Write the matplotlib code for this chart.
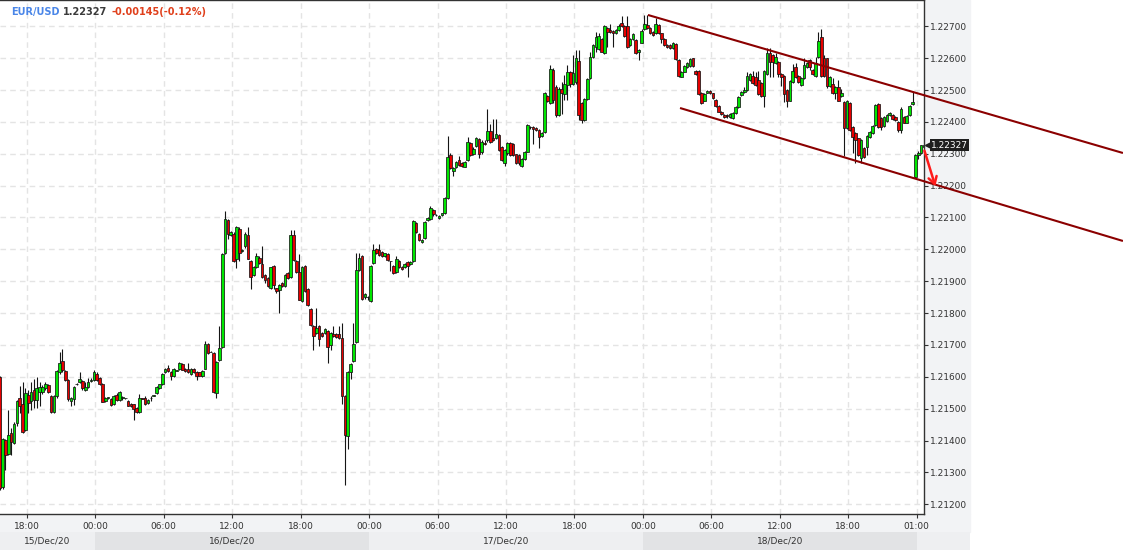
import numpy as np
import matplotlib
matplotlib.use('Agg')
import matplotlib.pyplot as plt
import matplotlib.transforms as mtransforms
from matplotlib.patches import Rectangle

# EUR/USD, 15 minute candles
opens = [
    1.21600, 1.21255, 1.21401, 1.21359, 1.21424, 1.21393, 1.21455, 1.21534, 1.21516, 1.21432, 1.21544,
    1.21523, 1.21558, 1.21528, 1.21551, 1.21551, 1.21565, 1.21574, 1.21541, 1.21489, 1.21539,
    1.21614, 1.21650, 1.21618, 1.21591, 1.21523, 1.21531, 1.21576, 1.21583, 1.21586, 1.21558,
    1.21568, 1.21588, 1.21591, 1.21610, 1.21595, 1.21578, 1.21523, 1.21535, 1.21531, 1.21516,
    1.21544, 1.21526, 1.21535, 1.21533, 1.21524, 1.21516, 1.21514, 1.21503, 1.21490, 1.21533,
    1.21533, 1.21518, 1.21533, 1.21540, 1.21549, 1.21565, 1.21576, 1.21614, 1.21628, 1.21615,
    1.21602, 1.21619, 1.21625, 1.21640, 1.21625, 1.21625, 1.21609, 1.21625, 1.21616, 1.21614,
    1.21602, 1.21626, 1.21703, 1.21679, 1.21675, 1.21549, 1.21654, 1.21694, 1.21988, 1.22093,
    1.22046, 1.22048, 1.21969, 1.22063, 1.21996, 1.22009, 1.22046, 1.21964, 1.21919, 1.21946,
    1.21974, 1.21954, 1.21920, 1.21910, 1.21878, 1.21947, 1.21878, 1.21873, 1.21894, 1.21886,
    1.21925, 1.21913, 1.22046, 1.21963, 1.21928, 1.21837, 1.21948, 1.21875, 1.21813, 1.21760,
    1.21737, 1.21760, 1.21737, 1.21737, 1.21745, 1.21699, 1.21735, 1.21735, 1.21733, 1.21723,
    1.21541, 1.21413, 1.21616, 1.21649, 1.21708, 1.21936, 1.21980, 1.21850, 1.21852, 1.21837,
    1.21957, 1.22001, 1.21999, 1.21993, 1.21978, 1.21985, 1.21962, 1.21948, 1.21928, 1.21965,
    1.21946, 1.21944, 1.21961, 1.21953, 1.21962, 1.22084, 1.22049, 1.22022, 1.22037, 1.22092,
    1.22095, 1.22124, 1.22108, 1.22098, 1.22108, 1.22115, 1.22160, 1.22296, 1.22245, 1.22258,
    1.22281, 1.22270, 1.22260, 1.22281, 1.22333, 1.22300, 1.22324, 1.22345, 1.22304, 1.22333,
    1.22343, 1.22372, 1.22350, 1.22348, 1.22359, 1.22322, 1.22271, 1.22301, 1.22333, 1.22330,
    1.22298, 1.22296, 1.22262, 1.22284, 1.22307, 1.22385, 1.22383, 1.22380, 1.22375, 1.22355,
    1.22367, 1.22481, 1.22458, 1.22563, 1.22508, 1.22422, 1.22502, 1.22486, 1.22516, 1.22555,
    1.22520, 1.22525, 1.22592, 1.22458, 1.22406, 1.22471, 1.22537, 1.22603, 1.22636, 1.22630,
    1.22659, 1.22615, 1.22694, 1.22688, 1.22686, 1.22680, 1.22687, 1.22710, 1.22701, 1.22701,
    1.22641, 1.22659, 1.22657, 1.22618, 1.22649, 1.22690, 1.22704, 1.22694, 1.22683, 1.22678,
    1.22704, 1.22678, 1.22659, 1.22641, 1.22641, 1.22631, 1.22644, 1.22594, 1.22542, 1.22558,
    1.22573, 1.22575, 1.22599, 1.22561, 1.22561, 1.22490, 1.22467, 1.22492, 1.22498, 1.22490,
    1.22469, 1.22450, 1.22432, 1.22422, 1.22422, 1.22414, 1.22411, 1.22429, 1.22448, 1.22484,
    1.22495, 1.22500, 1.22531, 1.22544, 1.22540, 1.22531, 1.22523, 1.22481, 1.22550, 1.22615,
    1.22610, 1.22584, 1.22589, 1.22550, 1.22544, 1.22500, 1.22467, 1.22526, 1.22573, 1.22544,
    1.22516, 1.22537, 1.22573, 1.22594, 1.22563, 1.22544, 1.22605, 1.22667, 1.22599, 1.22599,
    1.22513, 1.22519, 1.22492, 1.22508, 1.22481, 1.22463, 1.22380, 1.22460, 1.22385, 1.22366,
    1.22348, 1.22286, 1.22317, 1.22322, 1.22354, 1.22364, 1.22390, 1.22456, 1.22411, 1.22387,
    1.22404, 1.22422, 1.22422, 1.22414, 1.22401, 1.22373, 1.22416, 1.22398, 1.22422, 1.22456,
    1.22228, 1.22296, 1.22302, 1.22320,
]
highs = [
    1.21604, 1.21408, 1.21405, 1.21495, 1.21439, 1.21458, 1.21528, 1.21570, 1.21585, 1.21565, 1.21560,
    1.21583, 1.21593, 1.21600, 1.21583, 1.21575, 1.21585, 1.21578, 1.21543, 1.21542, 1.21620,
    1.21679, 1.21688, 1.21620, 1.21593, 1.21536, 1.21570, 1.21580, 1.21616, 1.21590, 1.21585,
    1.21595, 1.21595, 1.21620, 1.21615, 1.21600, 1.21580, 1.21536, 1.21538, 1.21535, 1.21542,
    1.21548, 1.21554, 1.21541, 1.21535, 1.21526, 1.21518, 1.21516, 1.21505, 1.21545, 1.21535,
    1.21540, 1.21530, 1.21540, 1.21543, 1.21570, 1.21579, 1.21613, 1.21628, 1.21638, 1.21617,
    1.21628, 1.21621, 1.21645, 1.21642, 1.21627, 1.21643, 1.21627, 1.21627, 1.21618, 1.21616,
    1.21620, 1.21713, 1.21706, 1.21680, 1.21678, 1.21649, 1.21758, 1.21988, 1.22121, 1.22096,
    1.22058, 1.22055, 1.22073, 1.22070, 1.22002, 1.22053, 1.22070, 1.21966, 1.21948, 1.21990,
    1.21978, 1.22011, 1.21923, 1.21912, 1.21946, 1.21950, 1.21880, 1.21892, 1.21898, 1.21922,
    1.21928, 1.22061, 1.22060, 1.21966, 1.21986, 1.21949, 1.21951, 1.21878, 1.21815, 1.21763,
    1.21815, 1.21763, 1.21740, 1.21753, 1.21748, 1.21740, 1.21758, 1.21738, 1.21760, 1.21769,
    1.21543, 1.21619, 1.21644, 1.21769, 1.21988, 1.21990, 1.21983, 1.21863, 1.21855, 1.21950,
    1.22017, 1.22004, 1.22017, 1.21996, 1.21990, 1.21988, 1.21964, 1.21950, 1.21980, 1.21968,
    1.21948, 1.21956, 1.21963, 1.21963, 1.22091, 1.22086, 1.22051, 1.22032, 1.22089, 1.22100,
    1.22135, 1.22127, 1.22112, 1.22107, 1.22115, 1.22165, 1.22356, 1.22303, 1.22258, 1.22276,
    1.22294, 1.22274, 1.22276, 1.22354, 1.22338, 1.22320, 1.22354, 1.22350, 1.22343, 1.22343,
    1.22440, 1.22393, 1.22410, 1.22409, 1.22362, 1.22325, 1.22315, 1.22336, 1.22336, 1.22333,
    1.22300, 1.22299, 1.22286, 1.22308, 1.22393, 1.22388, 1.22386, 1.22383, 1.22378, 1.22369,
    1.22493, 1.22484, 1.22579, 1.22570, 1.22515, 1.22510, 1.22526, 1.22547, 1.22580, 1.22560,
    1.22610, 1.22625, 1.22625, 1.22462, 1.22475, 1.22538, 1.22620, 1.22644, 1.22683, 1.22678,
    1.22662, 1.22704, 1.22697, 1.22707, 1.22689, 1.22691, 1.22707, 1.22732, 1.22704, 1.22732,
    1.22662, 1.22679, 1.22660, 1.22629, 1.22690, 1.22735, 1.22735, 1.22697, 1.22686, 1.22725,
    1.22707, 1.22680, 1.22662, 1.22644, 1.22644, 1.22650, 1.22647, 1.22597, 1.22560, 1.22578,
    1.22588, 1.22599, 1.22602, 1.22564, 1.22564, 1.22493, 1.22491, 1.22501, 1.22501, 1.22492,
    1.22471, 1.22453, 1.22435, 1.22425, 1.22424, 1.22427, 1.22430, 1.22450, 1.22482, 1.22498,
    1.22510, 1.22558, 1.22553, 1.22561, 1.22558, 1.22561, 1.22526, 1.22564, 1.22631, 1.22631,
    1.22613, 1.22615, 1.22592, 1.22553, 1.22547, 1.22503, 1.22532, 1.22582, 1.22584, 1.22547,
    1.22540, 1.22600, 1.22587, 1.22597, 1.22566, 1.22605, 1.22683, 1.22690, 1.22610, 1.22602,
    1.22545, 1.22539, 1.22514, 1.22531, 1.22502, 1.22466, 1.22470, 1.22463, 1.22388, 1.22369,
    1.22351, 1.22346, 1.22320, 1.22359, 1.22372, 1.22390, 1.22456, 1.22459, 1.22414, 1.22419,
    1.22425, 1.22432, 1.22425, 1.22417, 1.22404, 1.22446, 1.22419, 1.22422, 1.22453, 1.22495,
    1.22299, 1.22310, 1.22329, 1.22329,
]
lows = [
    1.21246, 1.21248, 1.21307, 1.21356, 1.21356, 1.21390, 1.21445, 1.21487, 1.21425, 1.21430, 1.21487,
    1.21497, 1.21501, 1.21501, 1.21508, 1.21545, 1.21560, 1.21548, 1.21488, 1.21485, 1.21535,
    1.21608, 1.21615, 1.21588, 1.21525, 1.21508, 1.21513, 1.21574, 1.21580, 1.21560, 1.21555,
    1.21565, 1.21583, 1.21588, 1.21588, 1.21575, 1.21520, 1.21520, 1.21532, 1.21510, 1.21512,
    1.21523, 1.21523, 1.21526, 1.21531, 1.21508, 1.21505, 1.21464, 1.21488, 1.21488, 1.21530,
    1.21513, 1.21515, 1.21525, 1.21539, 1.21546, 1.21562, 1.21574, 1.21612, 1.21615, 1.21590,
    1.21600, 1.21618, 1.21622, 1.21620, 1.21615, 1.21612, 1.21606, 1.21612, 1.21590, 1.21602,
    1.21600, 1.21624, 1.21672, 1.21677, 1.21548, 1.21533, 1.21651, 1.21691, 1.21985, 1.22032,
    1.22043, 1.21961, 1.21943, 1.21964, 1.21993, 1.22005, 1.21969, 1.21875, 1.21916, 1.21943,
    1.21953, 1.21910, 1.21895, 1.21881, 1.21875, 1.21875, 1.21863, 1.21800, 1.21883, 1.21883,
    1.21908, 1.21910, 1.21964, 1.21925, 1.21840, 1.21834, 1.21865, 1.21822, 1.21760, 1.21685,
    1.21734, 1.21696, 1.21724, 1.21734, 1.21643, 1.21685, 1.21724, 1.21722, 1.21718, 1.21516,
    1.21261, 1.21374, 1.21593, 1.21646, 1.21705, 1.21933, 1.21840, 1.21845, 1.21842, 1.21834,
    1.21954, 1.21985, 1.21980, 1.21976, 1.21975, 1.21964, 1.21931, 1.21922, 1.21925, 1.21943,
    1.21935, 1.21941, 1.21913, 1.21950, 1.21960, 1.22051, 1.22025, 1.22020, 1.22034, 1.22090,
    1.22092, 1.22105, 1.22104, 1.22095, 1.22106, 1.22110, 1.22158, 1.22252, 1.22230, 1.22255,
    1.22263, 1.22258, 1.22258, 1.22278, 1.22293, 1.22295, 1.22320, 1.22286, 1.22300, 1.22328,
    1.22338, 1.22333, 1.22340, 1.22345, 1.22308, 1.22278, 1.22261, 1.22295, 1.22293, 1.22293,
    1.22268, 1.22266, 1.22259, 1.22281, 1.22304, 1.22379, 1.22330, 1.22372, 1.22317, 1.22352,
    1.22364, 1.22461, 1.22455, 1.22460, 1.22415, 1.22418, 1.22425, 1.22469, 1.22469, 1.22510,
    1.22515, 1.22520, 1.22406, 1.22398, 1.22403, 1.22468, 1.22534, 1.22600, 1.22620, 1.22627,
    1.22618, 1.22612, 1.22636, 1.22680, 1.22636, 1.22677, 1.22684, 1.22698, 1.22667, 1.22631,
    1.22638, 1.22656, 1.22612, 1.22594, 1.22646, 1.22687, 1.22691, 1.22677, 1.22670, 1.22675,
    1.22675, 1.22647, 1.22638, 1.22633, 1.22628, 1.22628, 1.22593, 1.22540, 1.22540, 1.22555,
    1.22570, 1.22572, 1.22572, 1.22547, 1.22485, 1.22455, 1.22464, 1.22490, 1.22487, 1.22471,
    1.22447, 1.22430, 1.22422, 1.22411, 1.22411, 1.22411, 1.22408, 1.22426, 1.22445, 1.22481,
    1.22492, 1.22497, 1.22528, 1.22520, 1.22513, 1.22485, 1.22478, 1.22448, 1.22547, 1.22542,
    1.22542, 1.22581, 1.22542, 1.22513, 1.22462, 1.22446, 1.22464, 1.22523, 1.22537, 1.22523,
    1.22513, 1.22534, 1.22570, 1.22563, 1.22547, 1.22541, 1.22602, 1.22541, 1.22541, 1.22505,
    1.22510, 1.22489, 1.22471, 1.22464, 1.22478, 1.22293, 1.22377, 1.22370, 1.22301, 1.22272,
    1.22293, 1.22270, 1.22288, 1.22295, 1.22351, 1.22361, 1.22387, 1.22380, 1.22375, 1.22384,
    1.22401, 1.22420, 1.22405, 1.22403, 1.22368, 1.22364, 1.22395, 1.22395, 1.22419, 1.22453,
    1.22225, 1.22285, 1.22300, 1.22318,
]
closes = [
    1.21250, 1.21405, 1.21356, 1.21418, 1.21395, 1.21453, 1.21524, 1.21510, 1.21427, 1.21549, 1.21518,
    1.21551, 1.21528, 1.21565, 1.21568, 1.21568, 1.21578, 1.21551, 1.21491, 1.21539, 1.21618,
    1.21643, 1.21620, 1.21591, 1.21531, 1.21533, 1.21568, 1.21578, 1.21593, 1.21565, 1.21568,
    1.21585, 1.21590, 1.21616, 1.21591, 1.21578, 1.21521, 1.21533, 1.21536, 1.21512, 1.21539,
    1.21526, 1.21551, 1.21536, 1.21533, 1.21510, 1.21510, 1.21499, 1.21491, 1.21533, 1.21531,
    1.21516, 1.21528, 1.21533, 1.21542, 1.21568, 1.21576, 1.21610, 1.21625, 1.21617, 1.21602,
    1.21625, 1.21620, 1.21643, 1.21622, 1.21617, 1.21614, 1.21625, 1.21614, 1.21604, 1.21604,
    1.21618, 1.21703, 1.21675, 1.21678, 1.21551, 1.21646, 1.21691, 1.21985, 1.22095, 1.22048,
    1.22055, 1.21964, 1.22070, 1.21988, 1.21999, 1.22048, 1.21971, 1.21913, 1.21945, 1.21978,
    1.21957, 1.21913, 1.21903, 1.21884, 1.21944, 1.21889, 1.21868, 1.21889, 1.21886, 1.21919,
    1.21911, 1.22046, 1.21967, 1.21928, 1.21842, 1.21946, 1.21868, 1.21825, 1.21762, 1.21727,
    1.21754, 1.21719, 1.21727, 1.21750, 1.21694, 1.21737, 1.21727, 1.21725, 1.21721, 1.21541,
    1.21417, 1.21616, 1.21641, 1.21703, 1.21936, 1.21974, 1.21844, 1.21860, 1.21852, 1.21948,
    1.21999, 1.21988, 1.21983, 1.21979, 1.21988, 1.21967, 1.21962, 1.21925, 1.21969, 1.21946,
    1.21938, 1.21954, 1.21948, 1.21961, 1.22089, 1.22054, 1.22028, 1.22030, 1.22086, 1.22097,
    1.22129, 1.22110, 1.22108, 1.22105, 1.22113, 1.22162, 1.22291, 1.22255, 1.22255, 1.22273,
    1.22265, 1.22262, 1.22273, 1.22338, 1.22296, 1.22315, 1.22348, 1.22300, 1.22338, 1.22332,
    1.22372, 1.22338, 1.22344, 1.22362, 1.22312, 1.22281, 1.22312, 1.22333, 1.22296, 1.22296,
    1.22271, 1.22271, 1.22283, 1.22305, 1.22390, 1.22383, 1.22379, 1.22375, 1.22354, 1.22366,
    1.22490, 1.22464, 1.22565, 1.22470, 1.22422, 1.22502, 1.22490, 1.22518, 1.22558, 1.22520,
    1.22553, 1.22600, 1.22422, 1.22406, 1.22471, 1.22534, 1.22605, 1.22641, 1.22665, 1.22668,
    1.22620, 1.22701, 1.22683, 1.22683, 1.22679, 1.22688, 1.22701, 1.22701, 1.22670, 1.22634,
    1.22659, 1.22676, 1.22615, 1.22626, 1.22686, 1.22707, 1.22694, 1.22680, 1.22673, 1.22707,
    1.22678, 1.22659, 1.22641, 1.22636, 1.22631, 1.22647, 1.22596, 1.22544, 1.22558, 1.22575,
    1.22585, 1.22596, 1.22575, 1.22550, 1.22488, 1.22458, 1.22488, 1.22498, 1.22490, 1.22474,
    1.22450, 1.22432, 1.22425, 1.22414, 1.22420, 1.22424, 1.22427, 1.22448, 1.22479, 1.22495,
    1.22500, 1.22544, 1.22550, 1.22523, 1.22516, 1.22488, 1.22481, 1.22561, 1.22617, 1.22589,
    1.22589, 1.22605, 1.22550, 1.22542, 1.22488, 1.22467, 1.22529, 1.22561, 1.22540, 1.22526,
    1.22537, 1.22579, 1.22584, 1.22571, 1.22550, 1.22584, 1.22655, 1.22544, 1.22544, 1.22513,
    1.22542, 1.22492, 1.22511, 1.22467, 1.22492, 1.22380, 1.22467, 1.22373, 1.22354, 1.22343,
    1.22296, 1.22343, 1.22291, 1.22356, 1.22369, 1.22387, 1.22453, 1.22383, 1.22383, 1.22416,
    1.22422, 1.22429, 1.22408, 1.22406, 1.22373, 1.22440, 1.22398, 1.22419, 1.22450, 1.22463,
    1.22296, 1.22302, 1.22327, 1.22327,
]

first_hour = -2.375   # first candle, hours after 15/Dec 18:00
bar_hours = 0.25

tick_hours = [0, 6, 12, 18, 24, 30, 36, 42, 48, 54, 60, 66, 72, 78]
tick_labels = ['18:00', '00:00', '06:00', '12:00', '18:00', '00:00', '06:00',
               '12:00', '18:00', '00:00', '06:00', '12:00', '18:00', '01:00']
day_starts = [6, 30, 54, 78]
day_labels = ['15/Dec/20', '16/Dec/20', '17/Dec/20', '18/Dec/20']
price_ticks = [1.212, 1.213, 1.214, 1.215, 1.216, 1.217, 1.218, 1.219,
               1.220, 1.221, 1.222, 1.223, 1.224, 1.225, 1.226, 1.227]

# hand drawn channel and arrow: (hour, price)
upper_channel = [(54.44, 1.227355), (96.07, 1.223024)]
lower_channel = [(57.25, 1.224436), (96.07, 1.220263)]
arrow_from = (78.6, 1.22318)
arrow_to = (79.7, 1.22190)

symbol = 'EUR/USD'
change = '-0.00145(-0.12%)'

# layout in pixels
W, H = 1123, 550
plot_right, plot_bottom, panel_right = 924, 514, 970
x0_px, px_per_hour = 26.8, 11.41
xlim = (-x0_px / px_per_hour, (plot_right - x0_px) / px_per_hour)
ylim = (1.211696, 1.227825)

fig = plt.figure(figsize=(W / 100, H / 100), dpi=100)
fig.patch.set_facecolor('white')

# grey strips for the axis areas
fig.patches.append(Rectangle((0, 18 / H), panel_right / W, 18 / H, transform=fig.transFigure,
                             color='#f2f3f5', zorder=-2))
fig.patches.append(Rectangle((plot_right / W, 36 / H), (panel_right - plot_right) / W, plot_bottom / H,
                             transform=fig.transFigure, color='#f2f3f5', zorder=-2))

ax = fig.add_axes([0, (H - plot_bottom) / H, plot_right / W, plot_bottom / H])
ax.set_xlim(xlim)
ax.set_ylim(ylim)

o = np.array(opens)
h = np.array(highs)
l = np.array(lows)
c = np.array(closes)
t = first_hour + bar_hours * np.arange(len(c))
up = c >= o

ax.vlines(t, l, h, color='#151515', lw=0.8, zorder=2)
ax.bar(t, np.abs(c - o), bottom=np.minimum(o, c), width=0.23,
       color=np.where(up, '#00e600', '#e60000'), edgecolor='#151515', linewidth=0.55, zorder=3)

ax.set_xticks(tick_hours)
ax.set_xticklabels(tick_labels)
ax.set_yticks(price_ticks)
ax.set_yticklabels([f'{p:.5f}' for p in price_ticks])
ax.yaxis.tick_right()
ax.grid(True, color='#e4e4e4', linestyle=(0, (4, 3)), lw=1.0)
ax.set_axisbelow(True)
ax.tick_params(axis='y', length=3, width=0.8, colors='#333333', labelsize=6.5, pad=1.5)
ax.tick_params(axis='x', length=3, width=0.8, colors='#333333', labelsize=6.5, pad=2.5)
ax.spines['left'].set_visible(False)
for s in ['right', 'bottom', 'top']:
    ax.spines[s].set_color('#333333')
    ax.spines[s].set_linewidth(1.0)

# channel lines run on past the plot to the edge of the picture
for line in (upper_channel, lower_channel):
    xs, ys = zip(*line)
    ax.plot(xs, ys, color='#8b0000', lw=1.5, clip_on=False, zorder=5, solid_capstyle='butt')

ax.annotate('', xy=arrow_to, xytext=arrow_from, annotation_clip=False, zorder=6,
            arrowprops=dict(arrowstyle='->,head_length=0.5,head_width=0.3', color='#ff1a1a', lw=1.8))

# last price tag
last = closes[-1]
blend = mtransforms.blended_transform_factory(ax.transAxes, ax.transData)
ax.plot([1.0045], [last], marker='<', ms=5, color='#1e1e1e', transform=blend, clip_on=False, zorder=7)
ax.annotate(f'{last:.5f}', xy=(1, last), xycoords=('axes fraction', 'data'), xytext=(5, 0),
            textcoords='offset points', ha='left', va='center', fontsize=6.5, color='white',
            bbox=dict(boxstyle='square,pad=0.15', fc='#1e1e1e', ec='none'),
            annotation_clip=False, zorder=8)

# date band under the time labels
ax_d = fig.add_axes([0, 0, panel_right / W, 18 / H])
d_right = (panel_right - x0_px) / px_per_hour
ax_d.set_xlim(xlim[0], d_right)
ax_d.set_ylim(0, 1)
ax_d.axis('off')
edges = [xlim[0]] + day_starts + [d_right]
for k in range(len(edges) - 1):
    ax_d.axvspan(edges[k], edges[k + 1], color='#e2e3e5' if k % 2 else '#eeeff1', lw=0)
    if k < len(day_labels):
        ax_d.text((edges[k] + edges[k + 1]) / 2, 0.5, day_labels[k], ha='center', va='center',
                  fontsize=6.5, color='#333333')

# header
fig.text(11 / W, 1 - 12 / H, symbol, fontsize=7, fontweight='bold', color='#4a86e8', va='center')
fig.text(63 / W, 1 - 12 / H, f'{last:.5f}', fontsize=7, fontweight='bold', color='#3a3a3a', va='center')
fig.text(112 / W, 1 - 12 / H, change, fontsize=7, fontweight='bold', color='#e0401c', va='center')

fig.savefig('out.png', dpi=100)
